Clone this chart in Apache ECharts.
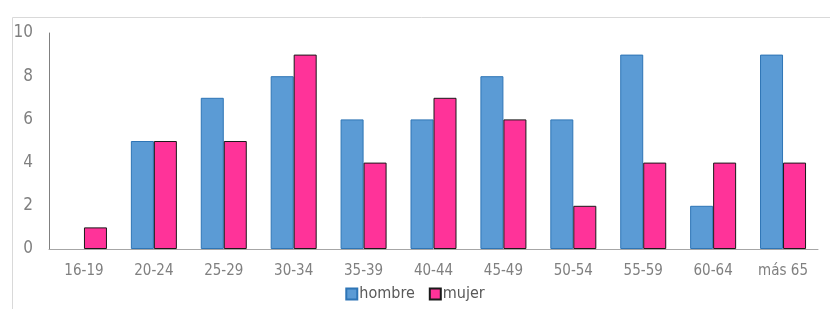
<!DOCTYPE html>
<html>
<head>
<meta charset="utf-8">
<script src="https://cdn.jsdelivr.net/npm/echarts@6/dist/echarts.min.js"></script>
<style>
html, body { margin: 0; padding: 0; background: #fff; }
#chart { width: 830px; height: 309px; }
</style>
</head>
<body>
<div id="chart"></div>
<script>
var categories = ['16-19', '20-24', '25-29', '30-34', '35-39', '40-44', '45-49', '50-54', '55-59', '60-64', 'más 65'];
var hombre = [0, 5, 7, 8, 6, 6, 8, 6, 9, 2, 9];
var mujer = [1, 5, 5, 9, 4, 7, 6, 2, 4, 4, 4];

var font = "'DejaVu Sans Condensed', 'Liberation Sans Narrow', 'Arial Narrow', sans-serif";

// los ceros no se dibujan (como en Excel)
function sinCeros(arr) {
    return arr.map(function (v) { return v === 0 ? null : v; });
}

var chart = echarts.init(document.getElementById('chart'));
var option = {
    animation: false,
    graphic: [{
        type: 'rect',
        left: 10, top: 15,
        shape: { width: 840, height: 320 },
        style: { fill: 'none', stroke: '#d9d9d9', lineWidth: 1 }
    }],
    grid: { left: 49, right: 12, top: 33, bottom: 60 },
    legend: {
        bottom: 2,
        left: 'center',
        itemWidth: 11,
        itemHeight: 11,
        itemGap: 14,
        icon: 'rect',
        textStyle: { color: '#595959', fontSize: 16, fontFamily: font, padding: [0, 0, 0, -3] },
        data: ['hombre', 'mujer']
    },
    xAxis: {
        type: 'category',
        data: categories,
        axisLine: { lineStyle: { color: '#a6a6a6' } },
        axisTick: { show: false },
        axisLabel: { color: '#808080', fontSize: 15, fontFamily: font, margin: 15 }
    },
    yAxis: {
        type: 'value',
        min: 0, max: 10, interval: 2,
        axisLine: { show: true, lineStyle: { color: '#808080' } },
        axisTick: { show: false },
        splitLine: { show: false },
        axisLabel: { color: '#808080', fontSize: 17, fontFamily: font, margin: 16 }
    },
    series: [{
        name: 'hombre',
        type: 'bar',
        data: sinCeros(hombre),
        barWidth: 23,
        barGap: '0%',
        itemStyle: { color: '#5b9bd5', borderColor: '#2e75b6', borderWidth: 1 }
    }, {
        name: 'mujer',
        type: 'bar',
        data: sinCeros(mujer),
        barWidth: 23,
        itemStyle: { color: '#ff3399', borderColor: '#1a1a1a', borderWidth: 1 }
    }]
};
chart.setOption(option);
</script>
</body>
</html>
